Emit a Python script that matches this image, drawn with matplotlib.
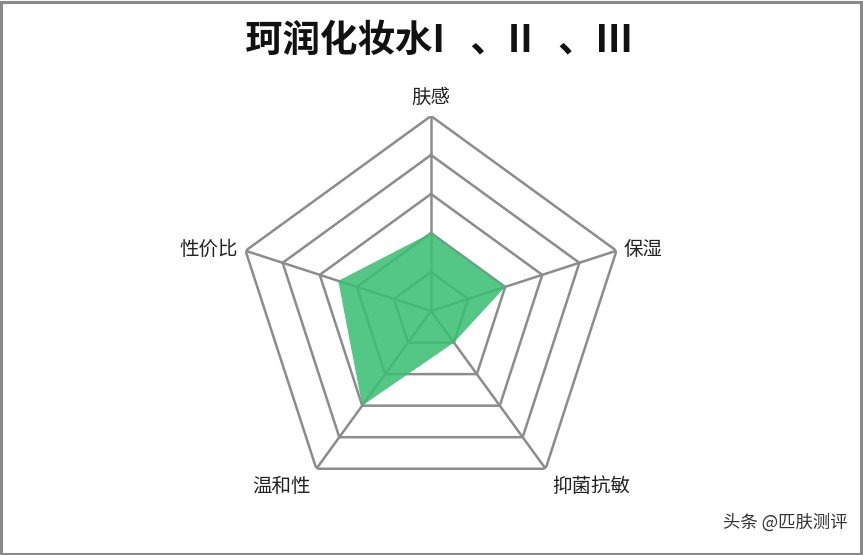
import numpy as np
import matplotlib
matplotlib.use("Agg")
import matplotlib.pyplot as plt
from matplotlib.patches import Rectangle

categories = ["肤感", "保湿", "抑菌抗敏", "温和性", "性价比"]
values = [2, 2, 1, 3, 2.5]
ring_levels = [1, 2, 3, 4, 5]
title = "珂润化妆水I   、II   、III"
watermark = "头条 @匹肤测评"

plt.rcParams['font.family'] = ['Noto Sans CJK SC', 'DejaVu Sans']

W, H = 863, 555
fig = plt.figure(figsize=(W / 100, H / 100), dpi=100)
fig.patch.set_facecolor('white')

cx, cy, R = 431, 555 - 311, 195
ax = fig.add_axes([(cx - R) / W, (cy - R) / H, 2 * R / W, 2 * R / H], projection='polar')
ax.set_theta_offset(np.pi / 2)
ax.set_theta_direction(-1)
ax.set_ylim(0, 5)
ax.grid(False)
ax.set_xticks([])
ax.set_yticks([])
ax.spines['polar'].set_visible(False)
ax.patch.set_alpha(0)

n = len(categories)
angles = np.linspace(0, 2 * np.pi, n, endpoint=False)
closed = np.concatenate([angles, angles[:1]])

grid_color = '#8c8c8c'
for lv in ring_levels:
    ax.plot(closed, [lv] * (n + 1), color=grid_color, lw=1.8, zorder=1)
for a in angles:
    ax.plot([a, a], [0, ring_levels[-1]], color=grid_color, lw=1.8, zorder=1)

vals = np.array(values + values[:1], dtype=float)
ax.fill(closed, vals, color='#3cbf74', alpha=0.88, lw=0, zorder=2)

offsets = [(0, 19), (27, 1), (46, -18), (-35, -18), (-37, 1)]
for a, lab, (dx, dy) in zip(angles, categories, offsets):
    ax.annotate(lab, xy=(a, 5), xytext=(dx * 0.72, dy * 0.72), textcoords='offset points',
                ha='center', va='center', fontsize=14, color='#222222', fontweight='light',
                annotation_clip=False)

fig.text(245 / W, 1 - 40 / H, title, ha='left', va='center', fontsize=27,
         fontweight='heavy', color='#111111')
fig.text(848 / W, 1 - 523 / H, watermark, ha='right', va='center', fontsize=12.5,
         color='#333333')

fig.add_artist(Rectangle((0.5 / W, 1.5 / H), (W - 2.5) / W, (H - 3) / H, transform=fig.transFigure,
                         fill=False, edgecolor='#8a8a8a', lw=2.2))

fig.savefig('out.png', dpi=100, facecolor='white')
